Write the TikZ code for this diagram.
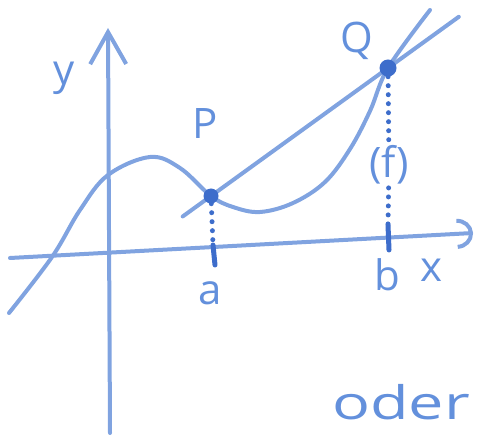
\documentclass[tikz,border=0pt]{standalone}
\usepackage{fontspec}
\usepackage{graphicx}
\usetikzlibrary{arrows.meta, calc}
\newfontfamily\handfont{Open Sans}
\newcommand{\hand}{\handfont\fontsize{42}{50}\selectfont}
\definecolor{inkblue}{HTML}{80A3E0}
\definecolor{dkink}{HTML}{3D6DCB}
\definecolor{txtblue}{HTML}{6390DC}

\begin{document}
\begin{tikzpicture}[
  x=1pt, y=1pt,
  every node/.style={text=txtblue, font=\hand},
  pen/.style={inkblue, line width=4pt, line cap=round},
  dot/.style={circle, fill=dkink, inner sep=0pt, minimum size=15pt},
  dots/.style={dkink, line width=5pt, line cap=round, dash pattern=on 0pt off 9pt},
  tickmark/.style={dkink, line width=5pt, line cap=round},
]

% Frame
\useasboundingbox (0,0) rectangle (478,439);

% Points on the curve
\coordinate (P) at (211,243);
\coordinate (Q) at (388,371);

% Axes
\draw[pen, -{Straight Barb[length=32pt, width=36pt]}] (110,6) -- (108,411);
\draw[pen, -{Arc Barb[length=16pt, width=30pt]}] (10,181) -- (473,206);

% Ticks at a and b
\coordinate (ta) at (213,194);
\coordinate (tb) at (388,214);
\draw[tickmark] (ta) -- (215,174);
\draw[tickmark] (tb) -- (389,189);

% The curve (f)
\draw[pen] plot[smooth, tension=0.6] coordinates {
  (9,126) (52,182) (80,229) (108,264) (150,282) (180,271) (P)
  (233,232) (260,227) (293,236) (325,257) (350,290) (370,328) (Q) (430,429)};

% Secant through P and Q
\draw[pen] ($(P)!-0.16!(Q)$) -- ($(P)!1.4!(Q)$);

% Marked points
\node[dot] (Pdot) at (P) {};
\node[dot, minimum size=17pt] (Qdot) at (Q) {};

% Labels
\node (ylab) at (64,361) {y};
\node (Plab) at (205,315) {P};
\node (Qlab) at (357,398) {Q};
\node (flab) at (389,274) {(f)};
\node (alab) at (210,146) {a};
\node (blab) at (387,164) {b};
\node (xlab) at (431,169) {x};
\node (oder) at (401,37) {\scalebox{1.5}[1.1]{oder}};

% Dotted drops to the axis
\draw[dots] (Pdot) -- (ta);
\draw[dots] (Qdot) -- (flab);
\draw[dots] (flab) -- (tb);

\end{tikzpicture}
\end{document}
